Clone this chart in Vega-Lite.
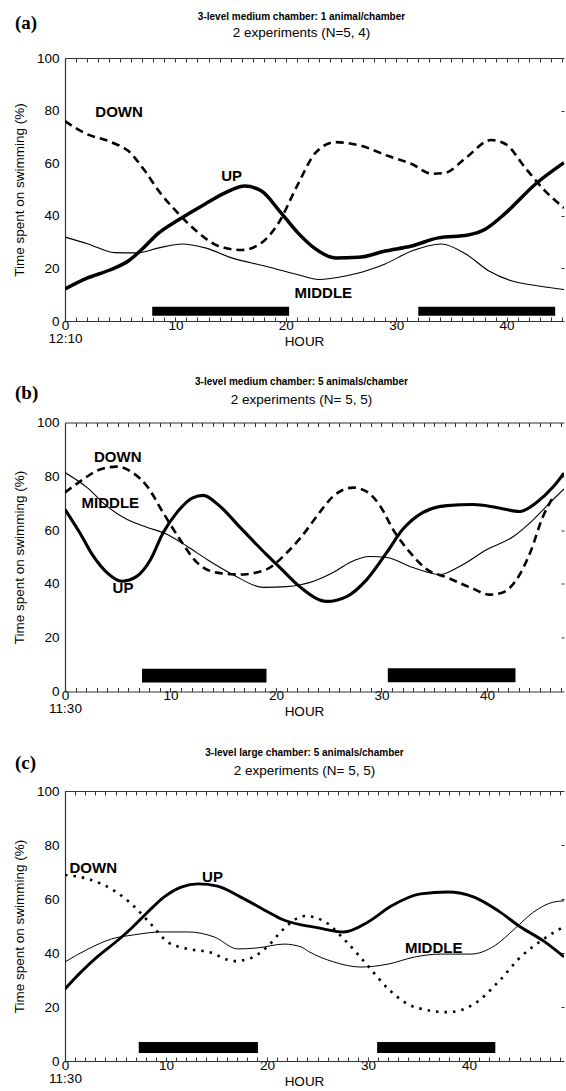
{
  "$schema": "https://vega.github.io/schema/vega-lite/v6.json",
  "padding": {"left": 12, "top": 11, "right": 0, "bottom": 0},
  "spacing": 28.5,
  "config": {
    "font": "Liberation Sans",
    "view": {"stroke": null},
    "axis": {"grid": false, "domainColor": "#333", "domainWidth": 1.2, "tickColor": "#333", "labelColor": "#000", "titleColor": "#000", "labelFont": "Liberation Sans", "titleFont": "Liberation Sans", "labelFontSize": 13.5, "titleFontSize": 13.5, "titleFontWeight": "normal"},
    "title": {"color": "#000", "subtitleColor": "#000", "font": "Liberation Sans", "subtitleFont": "Liberation Sans"}
  },
  "datasets": {
    "a_lines": [
      {"s":"UP","h":0,"v":12.2},{"s":"UP","h":2,"v":16.3},{"s":"UP","h":4,"v":19.3},{"s":"UP","h":5.8,"v":23},{"s":"UP","h":7,"v":27.4},{"s":"UP","h":8.5,"v":33.5},{"s":"UP","h":10.3,"v":38.5},{"s":"UP","h":12.7,"v":44.5},{"s":"UP","h":14.5,"v":48.7},{"s":"UP","h":16.3,"v":51.3},{"s":"UP","h":17.8,"v":49.4},{"s":"UP","h":19.4,"v":42},{"s":"UP","h":21.1,"v":33.5},{"s":"UP","h":22.5,"v":28},{"s":"UP","h":24.5,"v":24},{"s":"UP","h":26.6,"v":24.2},{"s":"UP","h":29,"v":26.6},{"s":"UP","h":31.4,"v":28.5},{"s":"UP","h":33.8,"v":31.6},{"s":"UP","h":36.5,"v":32.7},{"s":"UP","h":38.1,"v":35},{"s":"UP","h":39.9,"v":41},{"s":"UP","h":42.6,"v":52},{"s":"UP","h":45.2,"v":60.2},
      {"s":"DOWN","h":0,"v":76},{"s":"DOWN","h":1.75,"v":71.5},{"s":"DOWN","h":4.2,"v":68},{"s":"DOWN","h":5.75,"v":64.6},{"s":"DOWN","h":7.25,"v":57},{"s":"DOWN","h":8.5,"v":49.4},{"s":"DOWN","h":10.3,"v":40.7},{"s":"DOWN","h":12.1,"v":33.5},{"s":"DOWN","h":13.9,"v":28.5},{"s":"DOWN","h":16,"v":27},{"s":"DOWN","h":17.8,"v":29.7},{"s":"DOWN","h":19.3,"v":37},{"s":"DOWN","h":21.1,"v":52},{"s":"DOWN","h":22.7,"v":64},{"s":"DOWN","h":24.5,"v":68},{"s":"DOWN","h":26.9,"v":66.5},{"s":"DOWN","h":29.3,"v":62.7},{"s":"DOWN","h":31.4,"v":59.7},{"s":"DOWN","h":33.2,"v":56},{"s":"DOWN","h":34.4,"v":56.3},{"s":"DOWN","h":36.3,"v":62},{"s":"DOWN","h":38.6,"v":68.8},{"s":"DOWN","h":39.9,"v":67.3},{"s":"DOWN","h":41.7,"v":58.2},{"s":"DOWN","h":43.5,"v":49.4},{"s":"DOWN","h":45.2,"v":43},
      {"s":"MIDDLE","h":0,"v":31.9},{"s":"MIDDLE","h":2.1,"v":29.3},{"s":"MIDDLE","h":4.5,"v":26},{"s":"MIDDLE","h":6.6,"v":25.9},{"s":"MIDDLE","h":8.5,"v":27.8},{"s":"MIDDLE","h":10.6,"v":29.3},{"s":"MIDDLE","h":12.7,"v":27.8},{"s":"MIDDLE","h":15.1,"v":24},{"s":"MIDDLE","h":18.1,"v":20.9},{"s":"MIDDLE","h":21.1,"v":17.6},{"s":"MIDDLE","h":23,"v":15.8},{"s":"MIDDLE","h":25.4,"v":17.1},{"s":"MIDDLE","h":29,"v":21.7},{"s":"MIDDLE","h":31.4,"v":26.6},{"s":"MIDDLE","h":34.1,"v":29.3},{"s":"MIDDLE","h":36.3,"v":25.5},{"s":"MIDDLE","h":38.4,"v":19},{"s":"MIDDLE","h":40.5,"v":15.2},{"s":"MIDDLE","h":42.9,"v":13.3},{"s":"MIDDLE","h":45.2,"v":12}
    ],
    "a_bars": [{"h1":7.9,"h2":20.3,"v1":2,"v2":5.4},{"h1":32,"h2":44.4,"v1":2,"v2":5.4}],
    "a_labels": [{"t":"DOWN","h":4.9,"v":79.5},{"t":"UP","h":15.1,"v":55.1},{"t":"MIDDLE","h":23.4,"v":10.5}],
    "b_lines": [
      {"s":"UP","h":0,"v":67.7},{"s":"UP","h":1.4,"v":59},{"s":"UP","h":2.7,"v":50.2},{"s":"UP","h":4,"v":44.1},{"s":"UP","h":5.4,"v":41},{"s":"UP","h":6.8,"v":42.8},{"s":"UP","h":8.1,"v":49},{"s":"UP","h":9.3,"v":59},{"s":"UP","h":10.6,"v":66.5},{"s":"UP","h":12.1,"v":72},{"s":"UP","h":13.1,"v":72.9},{"s":"UP","h":14.7,"v":68.8},{"s":"UP","h":16.6,"v":61},{"s":"UP","h":19.1,"v":50.9},{"s":"UP","h":20.4,"v":46},{"s":"UP","h":22.3,"v":38.8},{"s":"UP","h":24.8,"v":33.5},{"s":"UP","h":26.7,"v":35.3},{"s":"UP","h":28.6,"v":41.6},{"s":"UP","h":30.5,"v":51.7},{"s":"UP","h":32,"v":60.2},{"s":"UP","h":33.9,"v":66.5},{"s":"UP","h":36.2,"v":69.1},{"s":"UP","h":38.7,"v":69.5},{"s":"UP","h":40.9,"v":68.4},{"s":"UP","h":43.1,"v":66.9},{"s":"UP","h":44.7,"v":70.3},{"s":"UP","h":46.3,"v":76.2},{"s":"UP","h":47.3,"v":81.2},
      {"s":"DOWN","h":0,"v":74},{"s":"DOWN","h":1.4,"v":78},{"s":"DOWN","h":3.3,"v":82.5},{"s":"DOWN","h":4.9,"v":83.6},{"s":"DOWN","h":6.4,"v":81.4},{"s":"DOWN","h":7.8,"v":76.2},{"s":"DOWN","h":9.3,"v":66.5},{"s":"DOWN","h":10.9,"v":56.5},{"s":"DOWN","h":12.5,"v":48},{"s":"DOWN","h":14.4,"v":44.2},{"s":"DOWN","h":16.6,"v":43.5},{"s":"DOWN","h":19.1,"v":45.4},{"s":"DOWN","h":21,"v":51.5},{"s":"DOWN","h":22.3,"v":57},{"s":"DOWN","h":24.2,"v":66.9},{"s":"DOWN","h":25.4,"v":72.5},{"s":"DOWN","h":27.3,"v":75.8},{"s":"DOWN","h":28.6,"v":74.3},{"s":"DOWN","h":29.9,"v":68.8},{"s":"DOWN","h":31.1,"v":60.2},{"s":"DOWN","h":32.7,"v":51.7},{"s":"DOWN","h":34.3,"v":45.4},{"s":"DOWN","h":36.2,"v":42.4},{"s":"DOWN","h":38.4,"v":38.7},{"s":"DOWN","h":40.3,"v":36},{"s":"DOWN","h":41.5,"v":36.8},{"s":"DOWN","h":42.8,"v":41.6},{"s":"DOWN","h":44.1,"v":51.7},{"s":"DOWN","h":45.3,"v":65},{"s":"DOWN","h":46.3,"v":72.5},
      {"s":"MIDDLE","h":0,"v":81.4},{"s":"MIDDLE","h":2.1,"v":75.8},{"s":"MIDDLE","h":4,"v":68.8},{"s":"MIDDLE","h":5.9,"v":63.9},{"s":"MIDDLE","h":7.8,"v":61},{"s":"MIDDLE","h":9.7,"v":58.4},{"s":"MIDDLE","h":11.6,"v":53.9},{"s":"MIDDLE","h":13.5,"v":49},{"s":"MIDDLE","h":15.9,"v":43.5},{"s":"MIDDLE","h":18.8,"v":38.7},{"s":"MIDDLE","h":21,"v":39},{"s":"MIDDLE","h":23.5,"v":40.9},{"s":"MIDDLE","h":25.4,"v":44.2},{"s":"MIDDLE","h":27,"v":48},{"s":"MIDDLE","h":28.9,"v":50.2},{"s":"MIDDLE","h":30.5,"v":49.8},{"s":"MIDDLE","h":33,"v":46.1},{"s":"MIDDLE","h":35.5,"v":43.5},{"s":"MIDDLE","h":37.4,"v":46.5},{"s":"MIDDLE","h":40,"v":52.8},{"s":"MIDDLE","h":42.5,"v":57.6},{"s":"MIDDLE","h":44.4,"v":63.9},{"s":"MIDDLE","h":46,"v":70.3},{"s":"MIDDLE","h":47.3,"v":75.3}
    ],
    "b_bars": [{"h1":7.3,"h2":19.1,"v1":3.3,"v2":8.5},{"h1":30.6,"h2":42.7,"v1":3.4,"v2":8.6}],
    "b_labels": [{"t":"DOWN","h":5,"v":87},{"t":"MIDDLE","h":4.3,"v":70},{"t":"UP","h":5.5,"v":38.3}],
    "c_lines": [
      {"s":"UP","h":0,"v":26.7},{"s":"UP","h":1.6,"v":33},{"s":"UP","h":3.3,"v":38.9},{"s":"UP","h":4.9,"v":43.7},{"s":"UP","h":6.5,"v":48.9},{"s":"UP","h":8.2,"v":55.2},{"s":"UP","h":9.8,"v":60.7},{"s":"UP","h":11.5,"v":64.4},{"s":"UP","h":13.2,"v":65.6},{"s":"UP","h":15.1,"v":64.8},{"s":"UP","h":17.4,"v":60.7},{"s":"UP","h":20.1,"v":55.2},{"s":"UP","h":21.4,"v":52.6},{"s":"UP","h":23.4,"v":50.4},{"s":"UP","h":24.7,"v":49.6},{"s":"UP","h":27.6,"v":47.8},{"s":"UP","h":30,"v":51.5},{"s":"UP","h":32.3,"v":57.4},{"s":"UP","h":35.2,"v":61.9},{"s":"UP","h":37.9,"v":62.6},{"s":"UP","h":40.5,"v":60.7},{"s":"UP","h":42.9,"v":55.6},{"s":"UP","h":45.1,"v":49.6},{"s":"UP","h":47.4,"v":44.4},{"s":"UP","h":49.4,"v":38.6},
      {"s":"DOWN","h":0,"v":68.9},{"s":"DOWN","h":2.3,"v":67.4},{"s":"DOWN","h":4.9,"v":63},{"s":"DOWN","h":6.8,"v":57.4},{"s":"DOWN","h":8.5,"v":50.7},{"s":"DOWN","h":10.2,"v":44},{"s":"DOWN","h":12.2,"v":41.5},{"s":"DOWN","h":14.2,"v":40.4},{"s":"DOWN","h":16.8,"v":37},{"s":"DOWN","h":18.4,"v":38.1},{"s":"DOWN","h":20.1,"v":42.6},{"s":"DOWN","h":21.4,"v":48},{"s":"DOWN","h":22.1,"v":50.5},{"s":"DOWN","h":23.7,"v":53.7},{"s":"DOWN","h":25.6,"v":51.9},{"s":"DOWN","h":27.6,"v":45.2},{"s":"DOWN","h":30,"v":35.2},{"s":"DOWN","h":32,"v":26.7},{"s":"DOWN","h":34.6,"v":20},{"s":"DOWN","h":37.9,"v":18.1},{"s":"DOWN","h":40.5,"v":21.1},{"s":"DOWN","h":42.9,"v":29.3},{"s":"DOWN","h":45.1,"v":38.5},{"s":"DOWN","h":47.4,"v":45.2},{"s":"DOWN","h":49.4,"v":49.8},
      {"s":"MIDDLE","h":0,"v":36.7},{"s":"MIDDLE","h":2.3,"v":41.5},{"s":"MIDDLE","h":4.6,"v":45.2},{"s":"MIDDLE","h":6.8,"v":46.7},{"s":"MIDDLE","h":9.5,"v":47.8},{"s":"MIDDLE","h":12.2,"v":47.8},{"s":"MIDDLE","h":14.8,"v":45.9},{"s":"MIDDLE","h":17.1,"v":41.5},{"s":"MIDDLE","h":19.1,"v":41.9},{"s":"MIDDLE","h":21.7,"v":43.3},{"s":"MIDDLE","h":23.4,"v":42.2},{"s":"MIDDLE","h":24.1,"v":40.6},{"s":"MIDDLE","h":26.6,"v":36.7},{"s":"MIDDLE","h":29.3,"v":34.8},{"s":"MIDDLE","h":32,"v":35.9},{"s":"MIDDLE","h":34.6,"v":38.5},{"s":"MIDDLE","h":37.2,"v":39.6},{"s":"MIDDLE","h":40.2,"v":39.6},{"s":"MIDDLE","h":42.5,"v":42.6},{"s":"MIDDLE","h":44.5,"v":48.9},{"s":"MIDDLE","h":46.4,"v":55.2},{"s":"MIDDLE","h":48.4,"v":58.9},{"s":"MIDDLE","h":49.4,"v":59.3}
    ],
    "c_bars": [{"h1":7.3,"h2":19.1,"v1":3,"v2":7},{"h1":30.9,"h2":42.6,"v1":3,"v2":7}],
    "c_labels": [{"t":"DOWN","h":2.8,"v":71.5},{"t":"UP","h":14.6,"v":68.3},{"t":"MIDDLE","h":36.5,"v":41.9}]
  },
  "vconcat": [
    {
      "title": {"text": "(a)", "anchor": "start", "frame": "bounds", "font": "Liberation Serif", "fontSize": 19, "fontWeight": "bold", "dx": 3, "dy": 21, "offset": 0},
      "vconcat": [
        {
          "width": 499, "height": 263,
          "title": {"text": "3-level medium chamber: 1 animal/chamber", "subtitle": "2 experiments (N=5, 4)", "fontSize": 10, "fontWeight": "bold", "subtitleFontSize": 13.5, "subtitlePadding": 4, "offset": 12, "dx": -13, "anchor": "middle", "frame": "group"},
          "layer": [
            {"data": {"name": "a_bars"}, "mark": {"type": "rect", "color": "black"},
             "encoding": {
               "x": {"field": "h1", "type": "quantitative", "scale": {"domain": [0, 45.2], "nice": false, "zero": false}, "title": "HOUR",
                     "axis": {"orient": "bottom", "values": [0,1,2,3,4,5,6,7,8,9,10,11,12,13,14,15,16,17,18,19,20,21,22,23,24,25,26,27,28,29,30,31,32,33,34,35,36,37,38,39,40,41,42,43,44,45], "tickSize": -4, "labelExpr": "datum.value % 10 === 0 ? (datum.value === 0 ? ['0','12:10'] : datum.label) : ''", "labelOverlap": false, "labelFlush": false, "labelBound": false, "labelPadding": 1, "labelLineHeight": 13, "minExtent": 11, "maxExtent": 11, "titlePadding": 2, "titleX": 239}},
               "x2": {"field": "h2"},
               "y": {"field": "v1", "type": "quantitative", "scale": {"domain": [0, 100], "nice": false}, "title": "Time spent on swimming (%)",
                     "axis": {"orient": "left", "values": [0,20,40,60,80,100], "ticks": false, "tickSize": 0, "labelPadding": 6, "minExtent": 36, "maxExtent": 36, "titlePadding": 3}},
               "y2": {"field": "v2"}
             }},
            {"data": {"name": "a_lines"}, "transform": [{"filter": "datum.s === 'UP'"}],
             "mark": {"type": "line", "interpolate": "monotone", "strokeWidth": 3.5, "color": "black", "clip": true},
             "encoding": {
               "x": {"field": "h", "type": "quantitative", "scale": {"domain": [0, 45.2], "nice": false, "zero": false}, "title": null,
                     "axis": {"orient": "top", "values": [0,1,2,3,4,5,6,7,8,9,10,11,12,13,14,15,16,17,18,19,20,21,22,23,24,25,26,27,28,29,30,31,32,33,34,35,36,37,38,39,40,41,42,43,44,45], "tickSize": -4, "labels": false}},
               "y": {"field": "v", "type": "quantitative", "scale": {"domain": [0, 100], "nice": false}, "title": null,
                     "axis": {"orient": "right", "values": [20,40,60,80], "tickSize": -3, "labels": false, "domain": false}}
             }},
            {"data": {"name": "a_lines"}, "transform": [{"filter": "datum.s === 'MIDDLE'"}],
             "mark": {"type": "line", "interpolate": "monotone", "strokeWidth": 1.1, "color": "black", "clip": true},
             "encoding": {
               "x": {"field": "h", "type": "quantitative", "scale": {"domain": [0, 45.2], "nice": false, "zero": false}, "axis": null},
               "y": {"field": "v", "type": "quantitative", "scale": {"domain": [0, 100], "nice": false}, "axis": null}
             }},
            {"data": {"name": "a_lines"}, "transform": [{"filter": "datum.s === 'DOWN'"}],
             "mark": {"type": "line", "interpolate": "monotone", "strokeWidth": 2.6, "strokeDash": [8, 5], "color": "black", "clip": true},
             "encoding": {
               "x": {"field": "h", "type": "quantitative", "scale": {"domain": [0, 45.2], "nice": false, "zero": false}, "axis": null},
               "y": {"field": "v", "type": "quantitative", "scale": {"domain": [0, 100], "nice": false}, "axis": null}
             }},
            {"data": {"name": "a_labels"}, "mark": {"type": "text", "fontSize": 15, "fontWeight": "bold", "color": "black", "baseline": "middle", "align": "center"},
             "encoding": {
               "x": {"field": "h", "type": "quantitative", "scale": {"domain": [0, 45.2], "nice": false, "zero": false}, "axis": null},
               "y": {"field": "v", "type": "quantitative", "scale": {"domain": [0, 100], "nice": false}, "axis": null},
               "text": {"field": "t"}
             }}
          ],
          "resolve": {"axis": {"x": "independent", "y": "independent"}}
        }
      ]
    },
    {
      "title": {"text": "(b)", "anchor": "start", "frame": "bounds", "font": "Liberation Serif", "fontSize": 19, "fontWeight": "bold", "dx": 3, "dy": 26, "offset": 0},
      "vconcat": [
        {
          "width": 499, "height": 269,
          "title": {"text": "3-level medium chamber: 5 animals/chamber", "subtitle": "2 experiments (N= 5, 5)", "fontSize": 10, "fontWeight": "bold", "subtitleFontSize": 13.5, "subtitlePadding": 6, "offset": 9, "dx": -13, "anchor": "middle", "frame": "group"},
          "layer": [
            {"data": {"name": "b_bars"}, "mark": {"type": "rect", "color": "black"},
             "encoding": {
               "x": {"field": "h1", "type": "quantitative", "scale": {"domain": [0, 47.3], "nice": false, "zero": false}, "title": "HOUR",
                     "axis": {"orient": "bottom", "values": [0,1,2,3,4,5,6,7,8,9,10,11,12,13,14,15,16,17,18,19,20,21,22,23,24,25,26,27,28,29,30,31,32,33,34,35,36,37,38,39,40,41,42,43,44,45,46,47], "tickSize": -4, "labelExpr": "datum.value % 10 === 0 ? (datum.value === 0 ? ['0','11:30'] : datum.label) : ''", "labelOverlap": false, "labelFlush": false, "labelBound": false, "labelPadding": 1, "labelLineHeight": 13, "minExtent": 11, "maxExtent": 11, "titlePadding": 2, "titleX": 239}},
               "x2": {"field": "h2"},
               "y": {"field": "v1", "type": "quantitative", "scale": {"domain": [0, 100], "nice": false}, "title": "Time spent on swimming (%)",
                     "axis": {"orient": "left", "values": [0,20,40,60,80,100], "ticks": false, "tickSize": 0, "labelPadding": 6, "minExtent": 36, "maxExtent": 36, "titlePadding": 3}},
               "y2": {"field": "v2"}
             }},
            {"data": {"name": "b_lines"}, "transform": [{"filter": "datum.s === 'UP'"}],
             "mark": {"type": "line", "interpolate": "monotone", "strokeWidth": 3.1, "color": "black", "clip": true},
             "encoding": {
               "x": {"field": "h", "type": "quantitative", "scale": {"domain": [0, 47.3], "nice": false, "zero": false}, "title": null,
                     "axis": {"orient": "top", "values": [0,1,2,3,4,5,6,7,8,9,10,11,12,13,14,15,16,17,18,19,20,21,22,23,24,25,26,27,28,29,30,31,32,33,34,35,36,37,38,39,40,41,42,43,44,45,46,47], "tickSize": -4, "labels": false}},
               "y": {"field": "v", "type": "quantitative", "scale": {"domain": [0, 100], "nice": false}, "title": null,
                     "axis": {"orient": "right", "values": [20,40,60,80], "tickSize": -3, "labels": false, "domain": false}}
             }},
            {"data": {"name": "b_lines"}, "transform": [{"filter": "datum.s === 'MIDDLE'"}],
             "mark": {"type": "line", "interpolate": "monotone", "strokeWidth": 1.1, "color": "black", "clip": true},
             "encoding": {
               "x": {"field": "h", "type": "quantitative", "scale": {"domain": [0, 47.3], "nice": false, "zero": false}, "axis": null},
               "y": {"field": "v", "type": "quantitative", "scale": {"domain": [0, 100], "nice": false}, "axis": null}
             }},
            {"data": {"name": "b_lines"}, "transform": [{"filter": "datum.s === 'DOWN'"}],
             "mark": {"type": "line", "interpolate": "monotone", "strokeWidth": 2.6, "strokeDash": [8, 5], "color": "black", "clip": true},
             "encoding": {
               "x": {"field": "h", "type": "quantitative", "scale": {"domain": [0, 47.3], "nice": false, "zero": false}, "axis": null},
               "y": {"field": "v", "type": "quantitative", "scale": {"domain": [0, 100], "nice": false}, "axis": null}
             }},
            {"data": {"name": "b_labels"}, "mark": {"type": "text", "fontSize": 15, "fontWeight": "bold", "color": "black", "baseline": "middle", "align": "center"},
             "encoding": {
               "x": {"field": "h", "type": "quantitative", "scale": {"domain": [0, 47.3], "nice": false, "zero": false}, "axis": null},
               "y": {"field": "v", "type": "quantitative", "scale": {"domain": [0, 100], "nice": false}, "axis": null},
               "text": {"field": "t"}
             }}
          ],
          "resolve": {"axis": {"x": "independent", "y": "independent"}}
        }
      ]
    },
    {
      "title": {"text": "(c)", "anchor": "start", "frame": "bounds", "font": "Liberation Serif", "fontSize": 19, "fontWeight": "bold", "dx": 3, "dy": 25, "offset": 0},
      "vconcat": [
        {
          "width": 499, "height": 270,
          "title": {"text": "3-level large chamber: 5 animals/chamber", "subtitle": "2 experiments (N= 5, 5)", "fontSize": 10, "fontWeight": "bold", "subtitleFontSize": 13.5, "subtitlePadding": 6, "offset": 7, "dx": -10, "anchor": "middle", "frame": "group"},
          "layer": [
            {"data": {"name": "c_bars"}, "mark": {"type": "rect", "color": "black"},
             "encoding": {
               "x": {"field": "h1", "type": "quantitative", "scale": {"domain": [0, 49.4], "nice": false, "zero": false}, "title": "HOUR",
                     "axis": {"orient": "bottom", "values": [0,1,2,3,4,5,6,7,8,9,10,11,12,13,14,15,16,17,18,19,20,21,22,23,24,25,26,27,28,29,30,31,32,33,34,35,36,37,38,39,40,41,42,43,44,45,46,47,48,49], "tickSize": -4, "labelExpr": "datum.value % 10 === 0 ? (datum.value === 0 ? ['0','11:30'] : datum.label) : ''", "labelOverlap": false, "labelFlush": false, "labelBound": false, "labelPadding": 1, "labelLineHeight": 13, "minExtent": 11, "maxExtent": 11, "titlePadding": 2, "titleX": 239}},
               "x2": {"field": "h2"},
               "y": {"field": "v1", "type": "quantitative", "scale": {"domain": [0, 100], "nice": false}, "title": "Time spent on swimming (%)",
                     "axis": {"orient": "left", "values": [0,20,40,60,80,100], "ticks": false, "tickSize": 0, "labelPadding": 6, "minExtent": 36, "maxExtent": 36, "titlePadding": 3}},
               "y2": {"field": "v2"}
             }},
            {"data": {"name": "c_lines"}, "transform": [{"filter": "datum.s === 'UP'"}],
             "mark": {"type": "line", "interpolate": "monotone", "strokeWidth": 2.9, "color": "black", "clip": true},
             "encoding": {
               "x": {"field": "h", "type": "quantitative", "scale": {"domain": [0, 49.4], "nice": false, "zero": false}, "title": null,
                     "axis": {"orient": "top", "values": [0,1,2,3,4,5,6,7,8,9,10,11,12,13,14,15,16,17,18,19,20,21,22,23,24,25,26,27,28,29,30,31,32,33,34,35,36,37,38,39,40,41,42,43,44,45,46,47,48,49], "tickSize": -4, "labels": false}},
               "y": {"field": "v", "type": "quantitative", "scale": {"domain": [0, 100], "nice": false}, "title": null,
                     "axis": {"orient": "right", "values": [20,40,60,80], "tickSize": -3, "labels": false, "domain": false}}
             }},
            {"data": {"name": "c_lines"}, "transform": [{"filter": "datum.s === 'MIDDLE'"}],
             "mark": {"type": "line", "interpolate": "monotone", "strokeWidth": 1, "color": "black", "clip": true},
             "encoding": {
               "x": {"field": "h", "type": "quantitative", "scale": {"domain": [0, 49.4], "nice": false, "zero": false}, "axis": null},
               "y": {"field": "v", "type": "quantitative", "scale": {"domain": [0, 100], "nice": false}, "axis": null}
             }},
            {"data": {"name": "c_lines"}, "transform": [{"filter": "datum.s === 'DOWN'"}],
             "mark": {"type": "line", "interpolate": "monotone", "strokeWidth": 2.6, "strokeDash": [2.5, 6], "color": "black", "clip": true},
             "encoding": {
               "x": {"field": "h", "type": "quantitative", "scale": {"domain": [0, 49.4], "nice": false, "zero": false}, "axis": null},
               "y": {"field": "v", "type": "quantitative", "scale": {"domain": [0, 100], "nice": false}, "axis": null}
             }},
            {"data": {"name": "c_labels"}, "mark": {"type": "text", "fontSize": 15, "fontWeight": "bold", "color": "black", "baseline": "middle", "align": "center"},
             "encoding": {
               "x": {"field": "h", "type": "quantitative", "scale": {"domain": [0, 49.4], "nice": false, "zero": false}, "axis": null},
               "y": {"field": "v", "type": "quantitative", "scale": {"domain": [0, 100], "nice": false}, "axis": null},
               "text": {"field": "t"}
             }}
          ],
          "resolve": {"axis": {"x": "independent", "y": "independent"}}
        }
      ]
    }
  ]
}
